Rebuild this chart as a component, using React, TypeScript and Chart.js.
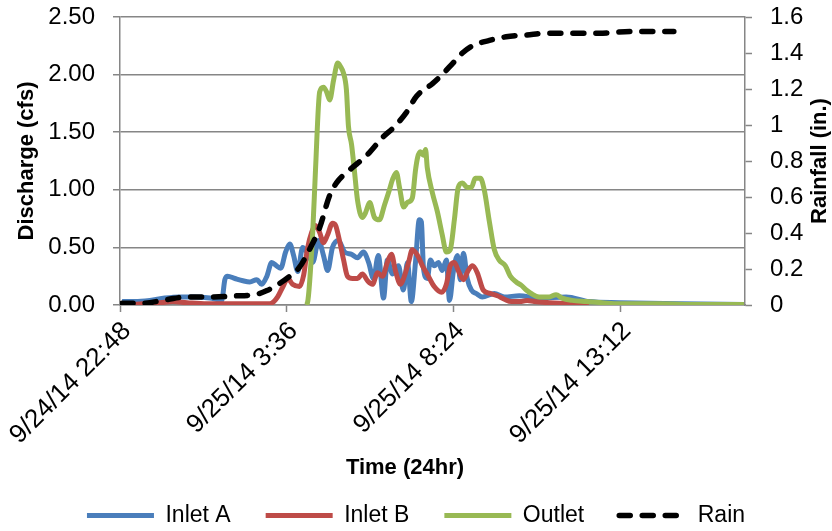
import React, { useEffect, useRef } from 'react';
import { Chart, registerables } from 'chart.js';

Chart.register(...registerables);

const FONT = '"Liberation Sans", Arial, sans-serif';

// x values: hours after 9/24/14 22:48
const xTickHours = [0, 4.8, 9.6, 14.4];
const xTickLabels = ['9/24/14 22:48', '9/25/14 3:36', '9/25/14 8:24', '9/25/14 13:12'];

const seriesLabels = ['Inlet A', 'Inlet B', 'Outlet', 'Rain'];
const seriesColors = ['#4A7EBB', '#BE4B48', '#98B954', '#000000'];

const timeA = [0.06, 0.43, 0.86, 1.29, 1.72, 2.16, 2.59, 2.93, 3.02, 3.10, 3.31, 3.54, 3.74, 3.94, 4.08, 4.23, 4.37, 4.51, 4.63, 4.77, 4.89, 5.00, 5.12, 5.26, 5.40, 5.55, 5.72, 5.86, 5.98, 6.12, 6.29, 6.47, 6.67, 6.84, 7.01, 7.16, 7.30, 7.44, 7.59, 7.70, 7.85, 8.02, 8.16, 8.28, 8.39, 8.51, 8.62, 8.68, 8.74, 8.85, 8.94, 9.05, 9.17, 9.28, 9.40, 9.49, 9.60, 9.72, 9.80, 9.89, 10.00, 10.12, 10.26, 10.43, 10.78, 11.07, 11.50, 12.07, 12.85, 13.51, 14.37, 16.10, 17.97];
const inletA = [0.03, 0.03, 0.04, 0.06, 0.07, 0.07, 0.06, 0.04, 0.22, 0.25, 0.23, 0.21, 0.20, 0.22, 0.18, 0.25, 0.37, 0.34, 0.32, 0.46, 0.53, 0.43, 0.29, 0.50, 0.45, 0.37, 0.56, 0.43, 0.30, 0.50, 0.56, 0.46, 0.44, 0.41, 0.46, 0.37, 0.23, 0.43, 0.06, 0.39, 0.27, 0.34, 0.13, 0.37, 0.03, 0.37, 0.74, 0.72, 0.32, 0.23, 0.39, 0.34, 0.37, 0.30, 0.39, 0.04, 0.29, 0.43, 0.22, 0.45, 0.23, 0.13, 0.10, 0.07, 0.10, 0.07, 0.08, 0.06, 0.07, 0.03, 0.02, 0.01, 0.005];

const timeB = [0.14, 0.66, 1.15, 1.52, 1.93, 2.50, 3.25, 4.31, 4.43, 4.54, 4.71, 4.83, 4.97, 5.17, 5.29, 5.40, 5.52, 5.63, 5.75, 5.86, 5.98, 6.12, 6.21, 6.32, 6.44, 6.55, 6.70, 6.84, 6.98, 7.13, 7.27, 7.42, 7.56, 7.70, 7.82, 7.93, 8.08, 8.19, 8.31, 8.42, 8.57, 8.71, 8.88, 9.05, 9.26, 9.40, 9.51, 9.63, 9.74, 9.89, 10.03, 10.15, 10.29, 10.46, 10.66, 10.87, 11.07, 11.27, 11.56, 11.73, 11.93, 12.36, 13.51];
const inletB = [0.00, 0.01, 0.02, 0.03, 0.02, 0.01, 0.01, 0.01, 0.03, 0.07, 0.17, 0.23, 0.18, 0.16, 0.26, 0.49, 0.63, 0.69, 0.63, 0.54, 0.61, 0.71, 0.69, 0.56, 0.39, 0.25, 0.23, 0.23, 0.27, 0.21, 0.18, 0.28, 0.25, 0.37, 0.44, 0.30, 0.18, 0.25, 0.37, 0.48, 0.43, 0.34, 0.25, 0.16, 0.11, 0.18, 0.34, 0.37, 0.30, 0.22, 0.30, 0.34, 0.28, 0.13, 0.10, 0.08, 0.05, 0.03, 0.03, 0.04, 0.03, 0.02, 0.005];

const timeO = [5.35, 5.40, 5.55, 5.63, 5.75, 5.86, 5.95, 6.04, 6.15, 6.27, 6.35, 6.44, 6.52, 6.58, 6.67, 6.75, 6.84, 6.98, 7.07, 7.19, 7.33, 7.47, 7.62, 7.76, 7.85, 7.96, 8.05, 8.17, 8.28, 8.42, 8.51, 8.57, 8.65, 8.74, 8.80, 8.85, 9.00, 9.14, 9.28, 9.40, 9.51, 9.63, 9.74, 9.86, 10.00, 10.12, 10.23, 10.38, 10.49, 10.64, 10.78, 10.92, 11.10, 11.24, 11.41, 11.56, 11.70, 11.84, 12.07, 12.36, 12.56, 12.73, 13.02, 13.42, 13.88, 14.37, 15.52, 16.67, 17.97];
const outlet = [0.00, 0.02, 0.63, 1.17, 1.85, 1.89, 1.85, 1.78, 1.95, 2.10, 2.07, 2.01, 1.87, 1.55, 1.39, 1.17, 0.91, 0.76, 0.80, 0.89, 0.76, 0.74, 0.87, 1.00, 1.09, 1.15, 1.02, 0.85, 0.89, 0.93, 1.17, 1.28, 1.33, 1.30, 1.35, 1.19, 0.97, 0.81, 0.61, 0.46, 0.48, 0.74, 1.02, 1.06, 1.02, 1.02, 1.10, 1.10, 1.00, 0.72, 0.48, 0.39, 0.34, 0.25, 0.20, 0.17, 0.13, 0.10, 0.07, 0.07, 0.09, 0.06, 0.04, 0.03, 0.02, 0.01, 0.01, 0.005, 0.005];

const timeR = [0.06, 0.66, 1.35, 1.93, 2.67, 3.25, 3.94, 4.23, 4.60, 4.89, 5.17, 5.46, 5.75, 6.04, 6.24, 6.61, 7.10, 7.56, 7.90, 8.25, 8.54, 9.00, 9.28, 9.57, 9.86, 10.15, 10.64, 11.12, 11.70, 12.36, 13.80, 14.75, 15.95];
const rain = [0.01, 0.01, 0.03, 0.045, 0.045, 0.05, 0.06, 0.08, 0.12, 0.16, 0.21, 0.31, 0.43, 0.61, 0.68, 0.75, 0.83, 0.93, 0.99, 1.07, 1.16, 1.23, 1.28, 1.34, 1.40, 1.44, 1.47, 1.49, 1.50, 1.51, 1.51, 1.52, 1.52];

const xTitle = 'Time (24hr)';
const yTitle = 'Discharge (cfs)';
const y2Title = 'Rainfall (in.)';

const GRID = '#868686';
const RAIN_DASH = [11, 12];

const pts = (xs: number[], ys: number[]) => xs.map((x, i) => ({ x, y: ys[i] }));

const titlesPlugin = {
  id: 'customTitles',
  afterDraw(chart: any) {
    const ctx = chart.ctx;
    const area = chart.chartArea;
    ctx.save();
    ctx.fillStyle = '#000';
    ctx.font = `bold 22px ${FONT}`;
    ctx.textAlign = 'center';
    ctx.textBaseline = 'middle';
    ctx.fillText(xTitle, 405, 468);
    ctx.translate(chart.width - 12, (area.top + area.bottom) / 2);
    ctx.rotate(-Math.PI / 2);
    ctx.fillText(y2Title, 0, 0);
    ctx.restore();
  },
};

const fixVertical = (w: number) => (s: any) => {
  s.width = w;
  s.paddingTop = 0;
  s.paddingBottom = 0;
};

export default function App() {
  const ref = useRef<HTMLCanvasElement>(null);
  useEffect(() => {
    if (!ref.current) return;
    Chart.defaults.font.family = FONT;
    const common = {
      pointRadius: 0,
      pointHoverRadius: 0,
      cubicInterpolationMode: 'monotone' as const,
      borderJoinStyle: 'round' as const,
      fill: false,
    };
    const chart = new Chart(ref.current, {
      type: 'line',
      data: {
        datasets: [
          { ...common, label: seriesLabels[0], data: pts(timeA, inletA), borderColor: seriesColors[0], backgroundColor: seriesColors[0], borderWidth: 5, yAxisID: 'y', order: 4 },
          { ...common, label: seriesLabels[1], data: pts(timeB, inletB), borderColor: seriesColors[1], backgroundColor: seriesColors[1], borderWidth: 5, yAxisID: 'y', order: 3 },
          { ...common, label: seriesLabels[2], data: pts(timeO, outlet), borderColor: seriesColors[2], backgroundColor: seriesColors[2], borderWidth: 5, yAxisID: 'y', order: 2 },
          { ...common, label: seriesLabels[3], data: pts(timeR, rain), borderColor: seriesColors[3], backgroundColor: seriesColors[3], borderWidth: 5.5, borderDash: RAIN_DASH, borderCapStyle: 'round', yAxisID: 'y2', order: 1 },
        ],
      },
      options: {
        animation: false,
        responsive: false,
        maintainAspectRatio: false,
        layout: { padding: { top: 17, left: 0, right: 0, bottom: 0 } },
        plugins: {
          tooltip: { enabled: false },
          legend: {
            position: 'bottom',
            reverse: true,
            maxHeight: 62,
            labels: {
              usePointStyle: true,
              pointStyle: 'line',
              pointStyleWidth: 67,
              padding: 35,
              color: '#000',
              font: { size: 23, family: FONT },
              generateLabels: (chart: any) => {
                const items = Chart.defaults.plugins.legend.labels.generateLabels(chart);
                items.forEach((it: any) => {
                  const ds: any = chart.data.datasets[it.datasetIndex];
                  it.lineWidth = ds.borderWidth;
                  it.lineDash = ds.borderDash || [];
                  it.lineCap = ds.borderCapStyle || 'butt';
                  it.strokeStyle = ds.borderColor;
                  it.fillStyle = ds.borderColor;
                  it.pointStyle = 'line';
                });
                return items;
              },
            },
          },
        },
        scales: {
          x: {
            type: 'linear',
            min: 0,
            max: 18,
            afterBuildTicks: (s: any) => {
              s.ticks = xTickHours.map((v) => ({ value: v }));
            },
            afterFit: (s: any) => {
              s.height = 164;
            },
            ticks: {
              autoSkip: false,
              minRotation: 45,
              maxRotation: 45,
              padding: 4,
              labelOffset: 7,
              color: '#000',
              font: { size: 26, family: FONT },
              callback: (v: any) => {
                const i = xTickHours.indexOf(Number(v));
                return i >= 0 ? xTickLabels[i] : '';
              },
            },
            grid: { drawOnChartArea: false, drawTicks: true, tickLength: 7, tickColor: GRID, tickWidth: 1.5 },
            border: { color: GRID, width: 1.5 },
          },
          y: {
            position: 'left',
            min: 0,
            max: 2.5,
            afterFit: fixVertical(120),
            ticks: {
              stepSize: 0.5,
              padding: 18,
              color: '#000',
              font: { size: 24, family: FONT },
              callback: (v: any) => Number(v).toFixed(2),
            },
            grid: { color: GRID, lineWidth: 1.5, drawTicks: true, tickLength: 7, tickColor: GRID, tickWidth: 1.5 },
            border: { color: GRID, width: 1.5 },
            title: {
              display: true,
              text: yTitle,
              color: '#000',
              font: { size: 22, weight: 'bold', family: FONT },
              padding: { top: 14, bottom: 0 },
            },
          },
          y2: {
            position: 'right',
            min: 0,
            max: 1.6,
            afterFit: fixVertical(87),
            ticks: {
              stepSize: 0.2,
              padding: 18,
              color: '#000',
              font: { size: 24, family: FONT },
              callback: (v: any) => String(Math.round(Number(v) * 10) / 10),
            },
            grid: { drawOnChartArea: false, drawTicks: true, tickLength: 7, tickColor: GRID, tickWidth: 1.5 },
            border: { color: GRID, width: 1.5 },
          },
        },
      },
      plugins: [titlesPlugin],
    });
    return () => chart.destroy();
  }, []);
  return (
    <div style={{ position: 'absolute', left: 0, top: 0, width: 832, height: 531, background: '#fff' }}>
      <canvas ref={ref} width={832} height={531} />
    </div>
  );
}
